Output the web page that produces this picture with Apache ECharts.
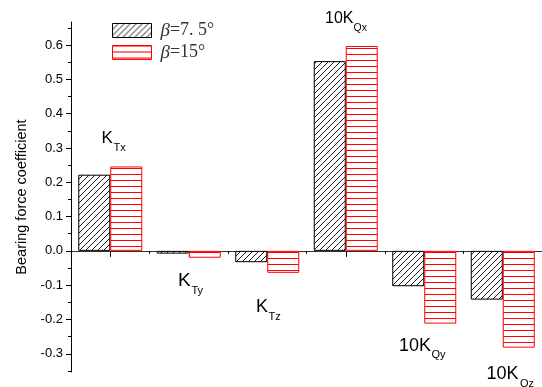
<!DOCTYPE html>
<html>
<head>
<meta charset="utf-8">
<script src="https://cdn.jsdelivr.net/npm/echarts@6/dist/echarts.min.js"></script>
<style>html,body{margin:0;padding:0;background:#fff}#c{width:542px;height:387px}</style>
</head>
<body>
<div id="c"></div>
<script>
const categories = ['K_Tx', 'K_Ty', 'K_Tz', '10K_Qx', '10K_Qy', '10K_Qz'];
const seriesNames = ['β=7.5°', 'β=15°'];
const beta75 = [0.222, -0.008, -0.033, 0.553, -0.103, -0.142];
const beta15 = [0.246, -0.020, -0.064, 0.597, -0.212, -0.282];
const yMajorTicks = [-0.3, -0.2, -0.1, 0.0, 0.1, 0.2, 0.3, 0.4, 0.5, 0.6];
const yMinorTicks = [-0.35, -0.25, -0.15, -0.05, 0.05, 0.15, 0.25, 0.35, 0.45, 0.55, 0.65];

function makePattern(kind) {
  const c = document.createElement('canvas');
  c.width = 6; c.height = 6;
  const g = c.getContext('2d');
  g.fillStyle = '#fff';
  g.fillRect(0, 0, 6, 6);
  if (kind === 'diag') {
    g.strokeStyle = '#000';
    g.lineWidth = 0.9;
    g.beginPath();
    g.moveTo(-1, 7); g.lineTo(7, -1);
    g.moveTo(-1, 1); g.lineTo(1, -1);
    g.moveTo(5, 7); g.lineTo(7, 5);
    g.stroke();
  } else {
    g.strokeStyle = '#ff0000';
    g.lineWidth = 1;
    g.beginPath();
    g.moveTo(0, 0.5); g.lineTo(6, 0.5);
    g.stroke();
  }
  return { image: c, repeat: 'repeat' };
}

const chart = echarts.init(document.getElementById('c'), null, { renderer: 'canvas' });

const sansFont = 'Liberation Sans, Arial, sans-serif';
const serifFont = 'Liberation Serif, Times New Roman, serif';

function annot(main, sub, x, baseY, size, subX, subBaseY, subSize) {
  return [
    { type: 'text', x: x, y: baseY - 0.82 * size, style: { text: main, font: size + 'px ' + sansFont, fill: '#000', verticalAlign: 'top' } },
    { type: 'text', x: subX, y: subBaseY - 0.82 * subSize, style: { text: sub, font: subSize + 'px ' + sansFont, fill: '#000', verticalAlign: 'top' } }
  ];
}

const graphics = [].concat(
  annot('K', 'Tx', 101.5, 144, 17, 113.5, 151.5, 11),
  annot('10K', 'Qx', 325, 23.5, 16, 353.5, 31, 10.5),
  annot('K', 'Ty', 178, 287, 19, 191.5, 294.5, 11),
  annot('K', 'Tz', 256, 312.5, 18, 268.5, 320, 11),
  annot('10K', 'Qy', 399, 351.5, 18, 431.5, 358, 11),
  annot('10K', 'Qz', 486.5, 380, 18, 520, 387, 11)
);

const option = {
  backgroundColor: '#fff',
  animation: false,
  grid: { left: 71, right: 0, top: 22, bottom: 15, containLabel: false },
  legend: {
    orient: 'vertical',
    left: 107,
    top: 16,
    icon: 'rect',
    itemWidth: 39,
    itemHeight: 14,
    itemGap: 3,
    data: [
      { name: seriesNames[0], itemStyle: { borderColor: '#000', borderWidth: 1 } },
      { name: seriesNames[1], itemStyle: { borderColor: '#ff0000', borderWidth: 1 } }
    ],
    formatter: function (name) {
      return '{b|β}{t|' + (name === seriesNames[0] ? '=7. 5°' : '=15°') + '}';
    },
    textStyle: {
      padding: [0, 0, 0, 4],
      rich: {
        b: { fontFamily: serifFont, fontStyle: 'italic', fontSize: 19, color: '#333' },
        t: { fontFamily: serifFont, fontSize: 18, color: '#333' }
      }
    }
  },
  xAxis: [
    {
      type: 'category',
      data: categories,
      position: 'bottom',
      axisLine: { onZero: true, lineStyle: { color: '#333', width: 1 } },
      axisTick: { show: true, alignWithLabel: true, length: 6, lineStyle: { color: '#000' } },
      axisLabel: { show: false },
      splitLine: { show: false }
    },
    {
      type: 'category',
      data: categories,
      position: 'bottom',
      axisLine: { show: false, onZero: true },
      axisTick: { show: true, alignWithLabel: false, length: 3, lineStyle: { color: '#000' } },
      axisLabel: { show: false },
      splitLine: { show: false }
    }
  ],
  yAxis: [
    {
      type: 'value',
      min: -0.353,
      max: 0.667,
      name: 'Bearing force coefficient',
      nameLocation: 'middle',
      nameGap: 42,
      nameTextStyle: { fontFamily: sansFont, fontSize: 14.5, color: '#000' },
      axisLine: { show: true, onZero: false, lineStyle: { color: '#000', width: 1 } },
      axisTick: { show: true, length: 5, customValues: yMajorTicks, lineStyle: { color: '#000' } },
      axisLabel: {
        customValues: yMajorTicks,
        margin: 8,
        fontFamily: sansFont,
        fontSize: 13,
        color: '#000',
        formatter: function (v) { return v.toFixed(1); }
      },
      splitLine: { show: false }
    },
    {
      type: 'value',
      min: -0.353,
      max: 0.667,
      position: 'left',
      axisLine: { show: false, onZero: false },
      axisTick: { show: true, length: 3, customValues: yMinorTicks, lineStyle: { color: '#000' } },
      axisLabel: { show: false },
      splitLine: { show: false }
    }
  ],
  series: [
    {
      name: seriesNames[0],
      type: 'bar',
      data: beta75,
      barWidth: 32,
      barGap: '0%',
      itemStyle: { color: makePattern('diag'), borderColor: '#000', borderWidth: 1 }
    },
    {
      name: seriesNames[1],
      type: 'bar',
      data: beta15,
      barWidth: 32,
      barGap: '0%',
      itemStyle: { color: makePattern('horiz'), borderColor: '#ff0000', borderWidth: 1 }
    }
  ],
  graphic: graphics
};

chart.setOption(option);
</script>
</body>
</html>
